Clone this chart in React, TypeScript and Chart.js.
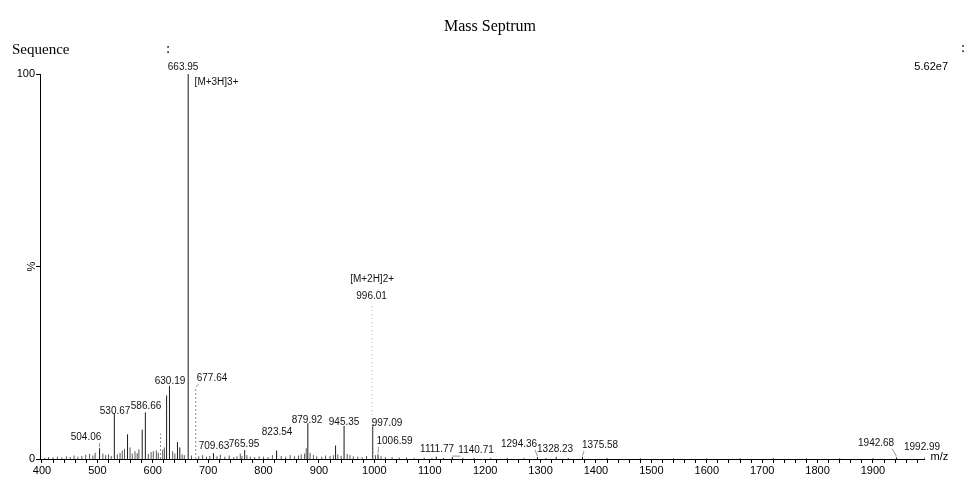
import { useEffect, useRef } from "react";
import { Chart, registerables } from "chart.js";

Chart.register(...registerables);

// ---- data (m/z, relative intensity %) ----
const mainMz = [504.06, 530.67, 554.5, 581.0, 586.66, 625.0, 630.19, 644.6, 648.8, 663.95, 709.63, 765.95, 823.54, 879.92, 930.0, 945.35, 997.09, 1006.59, 1111.77, 1140.71, 1294.36, 1328.23, 1375.58, 1942.68, 1992.99];
const mainInt = [2.8, 11.9, 6.4, 7.6, 12.1, 16.5, 19.0, 4.4, 3.0, 100, 1.5, 2.3, 2.2, 9.3, 3.5, 8.6, 8.8, 1.2, 0.6, 0.5, 0.5, 0.5, 0.6, 0.4, 0.4];

const dashedMz = [614.0, 677.64];
const dashedInt = [6.6, 18.4];

const dottedMz = [996.01];
const dottedInt = [40];

const noiseMz = [
  405, 412, 420, 428, 436, 444, 451, 458, 465, 472,
  479, 486, 492, 496, 510, 515, 520, 525, 536, 541,
  545, 549, 559, 563, 568, 572, 575, 592, 597, 601,
  606.5, 610, 618, 621, 636, 640, 653, 657, 670, 683,
  690, 697, 703, 716, 722, 730, 738, 746, 752, 758,
  761, 770, 776, 784, 792, 800, 808, 816, 832, 840,
  848, 856, 863, 868, 874, 877, 884, 890, 896, 905,
  912, 920, 926, 934, 940, 951, 956, 962, 970, 978,
  986, 1002, 1012, 1020, 1032, 1045, 1058, 1072, 1090, 1104,
  1125, 1160, 1180, 1210, 1240, 1270, 1310, 1350, 1420, 1480,
  1540, 1600, 1660, 1720, 1780, 1840, 1900,
];
const noiseInt = [
  0.3, 0.5, 0.4, 0.6, 0.4, 0.7, 0.5, 0.9, 0.6, 0.8,
  1.1, 1.3, 0.9, 1.6, 1.4, 1.0, 1.2, 0.8, 1.2, 1.6,
  2.2, 2.6, 3.0, 1.4, 2.0, 1.5, 2.5, 1.3, 1.8, 2.0,
  2.2, 1.6, 2.4, 3.0, 2.0, 1.4, 1.2, 1.0, 0.9, 0.7,
  1.0, 0.6, 0.8, 0.7, 1.1, 0.6, 0.9, 0.5, 0.7, 1.4,
  0.8, 1.0, 0.6, 0.5, 0.7, 0.6, 0.5, 1.0, 0.8, 0.6,
  1.0, 0.7, 0.9, 1.2, 1.4, 2.8, 1.6, 1.0, 0.7, 0.6,
  0.9, 0.8, 1.0, 1.2, 0.8, 1.3, 1.0, 0.7, 0.6, 0.5,
  0.8, 1.0, 0.7, 0.5, 0.5, 0.4, 0.4, 0.3, 0.4, 0.3,
  0.3, 0.3, 0.3, 0.3, 0.3, 0.3, 0.3, 0.3, 0.3, 0.2,
  0.2, 0.2, 0.2, 0.3, 0.2, 0.2, 0.2,
];

// ---- peak annotations ----
const labelText = ["663.95", "[M+3H]3+", "630.19", "677.64", "586.66", "530.67", "504.06", "709.63", "765.95", "823.54", "879.92", "945.35", "997.09", "1006.59", "1111.77", "1140.71", "1294.36", "1328.23", "1375.58", "1942.68", "1992.99", "[M+2H]2+", "996.01"];
const labelMz = [654.7, 715.2, 631.2, 707, 588, 532, 479.6, 710.6, 764.8, 824.4, 878.5, 945.3, 1022.9, 1036.5, 1113.2, 1183.6, 1261.2, 1326.2, 1407.4, 1905.6, 1988.6, 995.9, 995];
const labelPct = [101.8, 97.9, 20.3, 21.0, 13.8, 12.5, 5.7, 3.4, 3.9, 7.0, 10.1, 9.6, 9.4, 4.7, 2.6, 2.3, 3.9, 2.6, 3.6, 4.2, 3.1, 46.8, 42.3];
const leaderPeaks = [677.64, 504.06, 1006.59, 1140.71, 1294.36, 1375.58, 1942.68];

// ---- axes ----
const xMin = 396.5;
const xMax = 1993;
const xMajorTicks = [400, 500, 600, 700, 800, 900, 1000, 1100, 1200, 1300, 1400, 1500, 1600, 1700, 1800, 1900];
const xMinorStep = 20;
const xLastTick = 1980;
const yTickValues = [0, 50, 100];
const yTickLabels = ["0", "", "100"];

const SANS = '"Liberation Sans", Arial, sans-serif';
const SERIF = '"Liberation Serif", "Times New Roman", serif';

function sticks(mz: number[], inten: number[]) {
  const pts: { x: number; y: number | null }[] = [];
  mz.forEach((m, i) => {
    pts.push({ x: m, y: 0 }, { x: m, y: inten[i] }, { x: m, y: null });
  });
  return pts;
}

function peakHeight(mz: number): number {
  const lists: [number[], number[]][] = [
    [mainMz, mainInt],
    [dashedMz, dashedInt],
    [dottedMz, dottedInt],
  ];
  for (const [m, v] of lists) {
    const i = m.indexOf(mz);
    if (i >= 0) return v[i];
  }
  return 0;
}

const annotatePlugin = {
  id: "annotate",
  afterDraw(chart: any) {
    const { ctx, scales, chartArea } = chart;
    const x = scales.x;
    const y = scales.y;
    ctx.save();

    // peak labels
    ctx.font = `10px ${SANS}`;
    ctx.fillStyle = "#111";
    ctx.textAlign = "center";
    ctx.textBaseline = "middle";
    labelText.forEach((t, i) => {
      const cx = x.getPixelForValue(labelMz[i]);
      const cy = y.getPixelForValue(labelPct[i]);
      ctx.fillText(t, cx, cy);
    });

    // leader lines
    ctx.strokeStyle = "#777";
    ctx.lineWidth = 0.8;
    leaderPeaks.forEach((pm) => {
      const li = labelText.indexOf(pm.toFixed(2));
      if (li < 0) return;
      const w = ctx.measureText(labelText[li]).width;
      const cx = x.getPixelForValue(labelMz[li]);
      const cy = y.getPixelForValue(labelPct[li]);
      const px = x.getPixelForValue(pm);
      const py = y.getPixelForValue(peakHeight(pm)) - 1;
      const lx = Math.min(Math.max(px, cx - w / 2 + 2), cx + w / 2 - 2);
      ctx.beginPath();
      ctx.moveTo(px, py);
      ctx.lineTo(lx, cy + 6);
      ctx.stroke();
    });

    // header texts
    ctx.fillStyle = "#000";
    ctx.textBaseline = "middle";
    ctx.font = `16px ${SERIF}`;
    ctx.textAlign = "center";
    ctx.fillText("Mass Septrum", 490, 27);
    ctx.font = `15px ${SERIF}`;
    ctx.textAlign = "left";
    ctx.fillText("Sequence", 12, 50);
    ctx.fillText(":", 166, 49);
    ctx.fillText(":", 961, 48);
    ctx.font = `11px ${SANS}`;
    ctx.textAlign = "right";
    ctx.fillText("5.62e7", 948, 67);

    // axis titles
    ctx.font = `11px ${SANS}`;
    ctx.textAlign = "left";
    ctx.fillText("m/z", chartArea.right + 6, chartArea.bottom - 2);
    ctx.save();
    ctx.translate(32, y.getPixelForValue(50));
    ctx.rotate(-Math.PI / 2);
    ctx.textAlign = "center";
    ctx.fillText("%", 0, 0);
    ctx.restore();

    ctx.restore();
  },
};

export default function App() {
  const ref = useRef<HTMLCanvasElement | null>(null);

  useEffect(() => {
    if (!ref.current) return;
    const xTicks: number[] = [];
    xMajorTicks.forEach((m) => {
      for (let v = m; v < m + 100 && v <= xLastTick; v += xMinorStep) xTicks.push(v);
    });

    const chart = new Chart(ref.current, {
      type: "line",
      data: {
        datasets: [
          {
            label: "noise",
            data: sticks(noiseMz, noiseInt),
            borderColor: "#555",
            borderWidth: 1,
            pointRadius: 0,
            spanGaps: false,
            fill: false,
          },
          {
            label: "dotted",
            data: sticks(dottedMz, dottedInt),
            borderColor: "#aaa",
            borderWidth: 1,
            borderDash: [1, 3],
            pointRadius: 0,
            spanGaps: false,
            fill: false,
          },
          {
            label: "dashed",
            data: sticks(dashedMz, dashedInt),
            borderColor: "#888",
            borderWidth: 1,
            borderDash: [2, 2],
            pointRadius: 0,
            spanGaps: false,
            fill: false,
          },
          {
            label: "peaks",
            data: sticks(mainMz, mainInt),
            borderColor: "#1a1a1a",
            borderWidth: 1,
            pointRadius: 0,
            spanGaps: false,
            fill: false,
          },
        ],
      } as any,
      options: {
        responsive: false,
        animation: false,
        layout: { padding: { top: 74, right: 53.5, left: 0, bottom: 0 } },
        plugins: {
          legend: { display: false },
          tooltip: { enabled: false },
          title: { display: false },
        },
        elements: { line: { tension: 0 } },
        scales: {
          x: {
            type: "linear",
            min: xMin,
            max: xMax,
            afterBuildTicks: (s: any) => {
              s.ticks = xTicks.map((v) => ({ value: v }));
            },
            afterFit: (s: any) => {
              s.height = 21;
            },
            ticks: {
              autoSkip: false,
              maxRotation: 0,
              padding: 1,
              color: "#000",
              font: { family: SANS, size: 11 },
              callback: (v: any) => (Number(v) % 100 === 0 ? String(v) : ""),
            },
            grid: { display: true, drawOnChartArea: false, drawTicks: true, tickLength: 4, color: "#000" },
            border: { display: true, color: "#000", width: 1 },
          },
          y: {
            type: "linear",
            min: 0,
            max: 100,
            afterBuildTicks: (s: any) => {
              s.ticks = yTickValues.map((v) => ({ value: v }));
            },
            afterFit: (s: any) => {
              s.width = 40;
            },
            ticks: {
              padding: 1,
              color: "#000",
              font: { family: SANS, size: 11 },
              callback: (v: any) => {
                const i = yTickValues.indexOf(Number(v));
                return i >= 0 ? yTickLabels[i] : "";
              },
            },
            grid: { display: true, drawOnChartArea: false, drawTicks: true, tickLength: 4, color: "#000" },
            border: { display: true, color: "#000", width: 1 },
          },
        },
      } as any,
      plugins: [annotatePlugin],
    });
    return () => chart.destroy();
  }, []);

  return (
    <div style={{ position: "fixed", left: 0, top: 0, width: 978, height: 480, background: "#fff" }}>
      <canvas ref={ref} width={978} height={480} style={{ width: 978, height: 480, display: "block" }} />
    </div>
  );
}
